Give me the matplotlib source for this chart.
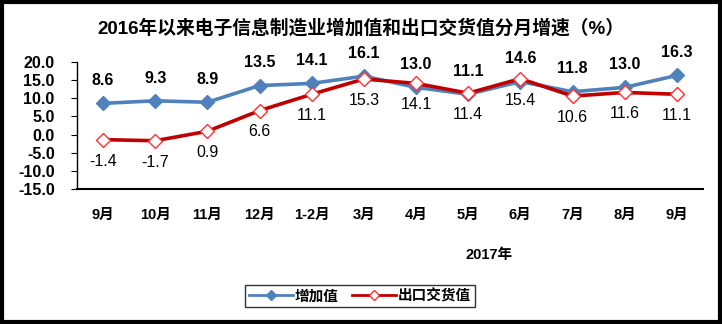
import matplotlib
matplotlib.use("Agg")
import matplotlib.pyplot as plt
from matplotlib.patches import Rectangle

plt.rcParams["font.family"] = ["Liberation Sans", "Noto Sans CJK SC"]

months = ["9月", "10月", "11月", "12月", "1-2月", "3月", "4月", "5月", "6月", "7月", "8月", "9月"]
added_value = [8.6, 9.3, 8.9, 13.5, 14.1, 16.1, 13.0, 11.1, 14.6, 11.8, 13.0, 16.3]
export_value = [-1.4, -1.7, 0.9, 6.6, 11.1, 15.3, 14.1, 11.4, 15.4, 10.6, 11.6, 11.1]
yticks = [20, 15, 10, 5, 0, -5, -10, -15]

BLUE = "#4F81BD"
RED = "#C00000"

fig = plt.figure(figsize=(7.22, 3.24), dpi=100)
ax = fig.add_axes([0.1066, 0.4167, 0.867, 0.392])

x = list(range(len(months)))
ax.plot(x, added_value, color=BLUE, lw=2.6, marker="D", ms=7,
        mfc=BLUE, mec=BLUE, label="增加值", zorder=3)
ax.plot(x, export_value, color=RED, lw=2.6, marker="D", ms=7,
        mfc="white", mec="#FF3030", mew=1.0, label="出口交货值", zorder=4)

for xi, v in zip(x, added_value):
    ax.annotate(f"{v:.1f}", (xi, v), xytext=(0, 11), textcoords="offset points",
                ha="center", va="bottom", fontsize=11.5, fontweight="bold")
for xi, v in zip(x, export_value):
    ax.annotate(f"{v:.1f}", (xi, v), xytext=(0, -10), textcoords="offset points",
                ha="center", va="top", fontsize=11.5)

ax.set_xlim(-0.5, len(months) - 0.5)
ax.set_ylim(-15, 20)
ax.set_yticks(yticks)
ax.set_yticklabels([f"{t:.1f}" for t in yticks], fontsize=11.5, fontweight="bold")
ax.tick_params(axis="y", direction="out", length=4, pad=12)
ax.set_xticks(x)
ax.set_xticklabels(months, fontsize=10.5, fontweight="bold")
ax.tick_params(axis="x", length=0, pad=14)
for s in ("top", "right"):
    ax.spines[s].set_visible(False)
ax.spines["left"].set_linewidth(1.0)
ax.spines["bottom"].set_linewidth(1.5)

fig.text(0.5, 0.913, "2016年以来电子信息制造业增加值和出口交货值分月增速（%）",
         ha="center", va="center", fontsize=13.5, fontweight="bold")
fig.text(0.678, 0.213, "2017年", ha="center", va="center", fontsize=10.5, fontweight="bold")

leg = fig.legend(loc="center", bbox_to_anchor=(0.4985, 0.086), ncol=2, frameon=True,
                 fancybox=False, edgecolor="black", handlelength=3.0,
                 columnspacing=0.9, borderpad=0.25, handletextpad=0.15,
                 prop={"weight": "bold", "size": 10.5})
leg.get_frame().set_linewidth(1.0)
for h in leg.legend_handles:
    h.set_markersize(5)
    h.set_linewidth(2)

fig.patches.append(Rectangle((0.003, 0.005), 0.994, 0.99, transform=fig.transFigure,
                             fill=False, edgecolor="black", linewidth=3))

fig.savefig("out.png", dpi=100)
